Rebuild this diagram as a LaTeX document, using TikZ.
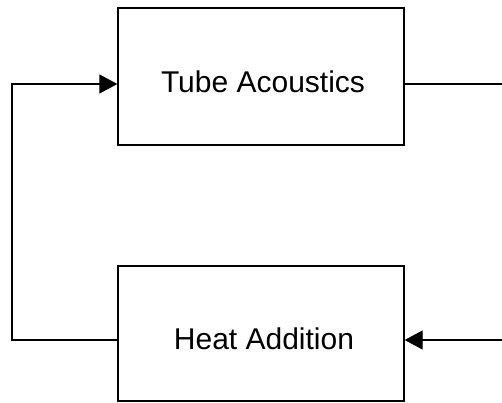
\documentclass[tikz,border=0pt]{standalone}
\usepackage{fontspec}
\setmainfont{Liberation Sans}
\usetikzlibrary{arrows.meta}
\begin{document}
\begin{tikzpicture}[x=1pt,y=1pt,
  blockbox/.style={draw=black,line width=1.3pt,minimum width=286pt,inner sep=0pt},
  lbl/.style={font=\fontsize{30}{36}\selectfont,anchor=base,inner sep=0pt},
  conn/.style={draw=black,line width=1.3pt},
  arr/.style={conn,-{Triangle[length=18pt,width=19pt]}}]
\useasboundingbox (0,0) rectangle (502,-402);
\node[blockbox,minimum height=137pt] (tube) at (261,-76.5) {};
\node[blockbox,minimum height=135pt] (heat) at (261,-333.5) {};
\node[lbl] (tubet) at (263,-92) {Tube Acoustics};
\node[lbl] (heatt) at (264,-349) {Heat Addition};
\coordinate (tr) at (503,-84);
\coordinate (br) at (503,-340);
\coordinate (tl) at (12,-84);
\coordinate (bl) at (12,-340);
\draw[conn] (tube.east |- tr) -- (tr);
\draw[arr] (br) -- (heat.east |- br);
\draw[arr] (heat.west |- bl) -- (bl) -- (tl) -- (tube.west |- tl);
\end{tikzpicture}
\end{document}
